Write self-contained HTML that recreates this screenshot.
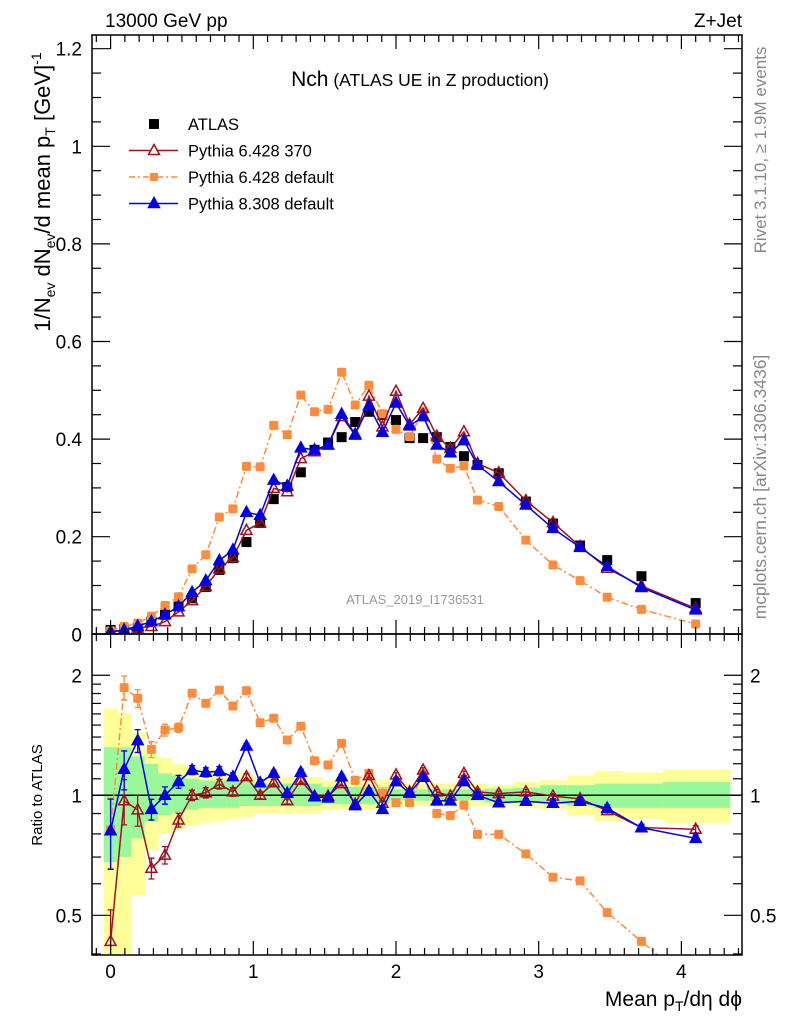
<!DOCTYPE html>
<html><head><meta charset="utf-8"><style>
body{margin:0;background:#fff}
svg{display:block;font-family:"Liberation Sans",sans-serif}
</style></head><body>
<svg id="c" width="786" height="1024" viewBox="0 0 786 1024">
<defs>
<clipPath id="cm"><rect x="92" y="35" width="650" height="599"/></clipPath>
<clipPath id="cr"><rect x="92" y="634" width="650" height="321"/></clipPath>
</defs>
<g id="bands" clip-path="url(#cr)"></g>
<g id="main" clip-path="url(#cm)"></g>
<g id="ratio" clip-path="url(#cr)"></g>
<g id="axes"></g>
<text x="105" y="27" font-size="19">13000 GeV pp</text>
<text x="742" y="27" font-size="19" text-anchor="end">Z+Jet</text>
<text x="420" y="86" text-anchor="middle"><tspan font-size="21">Nch</tspan><tspan font-size="17.5"> (ATLAS UE in Z production)</tspan></text>
<text x="415" y="604" font-size="13" fill="#999" text-anchor="middle">ATLAS_2019_I1736531</text>
<text transform="translate(766,150) rotate(-90)" font-size="17" fill="#888" text-anchor="middle">Rivet 3.1.10, ≥ 1.9M events</text>
<text transform="translate(766,487) rotate(-90)" font-size="17.5" fill="#888" text-anchor="middle">mcplots.cern.ch [arXiv:1306.3436]</text>
<text transform="translate(50,192) rotate(-90)" font-size="22" text-anchor="middle">1/N<tspan font-size="14" dy="5">ev</tspan><tspan dy="-5"> dN</tspan><tspan font-size="14" dy="5">ev</tspan><tspan dy="-5">/d mean p</tspan><tspan font-size="14" dy="5">T</tspan><tspan dy="-5"> [GeV]</tspan><tspan font-size="14" dy="-9">-1</tspan></text>
<text transform="translate(42,795) rotate(-90)" font-size="15" text-anchor="middle">Ratio to ATLAS</text>
<text x="742" y="1006" font-size="21" text-anchor="end">Mean p<tspan font-size="14" dy="5">T</tspan><tspan dy="-5">/dη dϕ</tspan></text>
<g id="legend"></g>
</svg>
<script>
const xs=[0,0.095,0.19,0.286,0.381,0.476,0.571,0.667,0.762,0.857,0.952,1.048,1.143,1.238,1.333,1.429,1.524,1.619,1.714,1.81,1.905,2.0,2.095,2.19,2.286,2.381,2.476,2.571,2.72,2.91,3.1,3.29,3.48,3.72,4.10];
const binEdges=[-0.048,0.048,0.143,0.238,0.333,0.429,0.524,0.619,0.714,0.81,0.905,1.0,1.095,1.19,1.286,1.381,1.476,1.571,1.667,1.762,1.857,1.952,2.048,2.143,2.238,2.333,2.429,2.524,2.62,2.82,3.01,3.2,3.39,3.58,3.87,4.34];
const atlas=[0.009,0.01,0.013,0.026,0.04,0.057,0.074,0.097,0.132,0.156,0.189,0.228,0.277,0.302,0.332,0.378,0.393,0.404,0.435,0.456,0.449,0.439,0.402,0.402,0.404,0.384,0.365,0.347,0.33,0.272,0.227,0.182,0.152,0.119,0.064];
const py6a=[0.005,0.008,0.013,0.016,0.026,0.046,0.069,0.098,0.134,0.157,0.213,0.228,0.299,0.292,0.36,0.374,0.388,0.446,0.408,0.488,0.425,0.498,0.43,0.463,0.406,0.381,0.415,0.35,0.331,0.274,0.229,0.18,0.135,0.099,0.053];
const py6d=[0.007,0.016,0.023,0.037,0.059,0.077,0.134,0.163,0.24,0.257,0.344,0.343,0.428,0.409,0.49,0.456,0.461,0.537,0.47,0.51,0.452,0.42,0.405,0.456,0.359,0.34,0.345,0.275,0.262,0.193,0.142,0.11,0.076,0.051,0.021];
const py8=[0.005,0.009,0.017,0.026,0.04,0.057,0.086,0.11,0.151,0.173,0.25,0.244,0.316,0.304,0.382,0.378,0.388,0.451,0.41,0.468,0.414,0.474,0.427,0.446,0.388,0.372,0.397,0.347,0.313,0.265,0.217,0.178,0.139,0.096,0.05];
const r6a=[0.43,0.969,0.919,0.656,0.708,0.867,1.0,1.015,1.067,1.02,1.113,1.0,1.075,0.97,1.09,0.995,0.995,1.07,0.95,1.12,0.955,1.125,1.02,1.157,1.02,0.995,1.135,1.02,1.01,1.02,0.995,0.98,0.915,0.83,0.822];
const r6d=[0.82,1.862,1.75,1.304,1.458,1.477,1.803,1.70,1.836,1.675,1.83,1.52,1.56,1.376,1.49,1.221,1.191,1.35,1.09,1.135,1.013,0.958,0.958,1.135,0.90,0.89,0.945,0.798,0.798,0.713,0.623,0.61,0.508,0.43,0.33];
const r8=[0.815,1.162,1.371,0.922,1.0,1.082,1.157,1.142,1.15,1.113,1.329,1.075,1.135,1.012,1.142,0.992,0.985,1.113,0.942,1.025,0.922,1.082,1.013,1.11,0.968,0.968,1.082,1.0,0.958,0.966,0.955,0.966,0.928,0.829,0.78];
const rErr=[0.2,0.13,0.09,0.06,0.05,0.04,0.03,0.03,0.03,0.025,0.02,0.02,0.02,0.02,0.02,0.015,0.015,0.015,0.015,0.015,0.015,0.015,0.015,0.015,0.015,0.015,0.015,0.015,0.015,0.015,0.015,0.02,0.02,0.02,0.02];
const yelUp=[1.65,1.61,1.44,1.27,1.24,1.2,1.18,1.16,1.15,1.14,1.13,1.11,1.11,1.11,1.11,1.11,1.09,1.09,1.09,1.09,1.09,1.07,1.07,1.07,1.07,1.07,1.07,1.07,1.06,1.08,1.09,1.12,1.15,1.14,1.16];
const yelDn=[0.3,0.40,0.56,0.73,0.80,0.82,0.84,0.85,0.86,0.87,0.88,0.90,0.90,0.90,0.90,0.90,0.92,0.92,0.92,0.92,0.92,0.94,0.94,0.94,0.94,0.94,0.94,0.94,0.94,0.93,0.92,0.89,0.86,0.87,0.85];
const grnUp=[1.32,1.32,1.25,1.2,1.135,1.12,1.10,1.09,1.09,1.08,1.08,1.07,1.07,1.07,1.07,1.07,1.05,1.05,1.05,1.05,1.05,1.035,1.035,1.035,1.035,1.035,1.035,1.035,1.04,1.045,1.06,1.06,1.07,1.07,1.08];
const grnDn=[0.68,0.70,0.78,0.86,0.89,0.905,0.92,0.93,0.93,0.93,0.94,0.94,0.94,0.94,0.94,0.94,0.95,0.95,0.95,0.95,0.95,0.97,0.97,0.97,0.97,0.97,0.97,0.97,0.96,0.955,0.95,0.94,0.93,0.93,0.93];
const yTicks=["0","0.2","0.4","0.6","0.8","1","1.2"];
const xTicks=["0","1","2","3","4"];
const rTicks=["0.5","1","2"];

const NS="http://www.w3.org/2000/svg";
const X=v=>110.6+v*142.7, Y=v=>634.3-v*488, R=r=>795.3-398.7*Math.log10(r);
function mk(p,t,a){const e=document.createElementNS(NS,t);for(const k in a)e.setAttribute(k,a[k]);p.appendChild(e);return e;}
const gM=document.getElementById('main'),gR=document.getElementById('ratio'),gB=document.getElementById('bands'),gA=document.getElementById('axes'),gL=document.getElementById('legend');
const RED="#a01020",ORG="#ff8c3c",BLU="#0000e6";

for(let i=0;i<xs.length;i++){
 const x0=X(binEdges[i]),x1=X(binEdges[i+1]);
 let e=mk(gB,'rect',{x:x0,y:R(yelUp[i]),width:x1-x0+0.5,height:R(yelDn[i])-R(yelUp[i]),fill:"#ffff99"});
 
 
 e=mk(gB,'rect',{x:x0,y:R(grnUp[i]),width:x1-x0+0.5,height:R(grnDn[i])-R(grnUp[i]),fill:"#99f899"});
 
 
}
let ln=mk(gR,'line',{x1:92,x2:742,y1:R(1),y2:R(1),stroke:"#000","stroke-width":1.5});



function tri(p,x,y,fill,stroke){return mk(p,'path',{d:`M${x},${y-6}L${x+5.5},${y+4}L${x-5.5},${y+4}Z`,fill:fill,stroke:stroke,"stroke-width":1.5});}
function series(p,vals,fy,color,dash,marker,name,errs){
 const pts=vals.map((v,i)=>X(xs[i])+","+fy(v)).join(" ");
 const pl=mk(p,'polyline',{points:pts,fill:"none",stroke:color,"stroke-width":1.5,"stroke-dasharray":dash||"none"});
 
 
 vals.forEach((v,i)=>{
  const x=X(xs[i]),y=fy(v);
  if(errs){const e=errs[i]*(v<1?v:1);const eb=mk(p,'path',{d:`M${x},${fy(v+e)}V${fy(Math.max(v-e,0.01))}M${x-3},${fy(v+e)}h6M${x-3},${fy(Math.max(v-e,0.01))}h6`,stroke:color,"stroke-width":1.3,fill:"none"});
   
   }
  let m;
  if(marker==='osq')m=mk(p,'rect',{x:x-4.5,y:y-4.5,width:9,height:9,fill:ORG,rx:1.5});
  else if(marker==='otri')m=tri(p,x,y,"none",RED);
  else m=tri(p,x,y,BLU,BLU);
  
  
 });
}
atlas.forEach((v,i)=>{const m=mk(gM,'rect',{x:X(xs[i])-5,y:Y(v)-5,width:10,height:10,fill:"#000"});
 
 });
series(gM,py6d,Y,ORG,"7,3,2,3",'osq','pythia6-default');
series(gM,py6a,Y,RED,null,'otri','pythia6-370');
series(gM,py8,Y,BLU,null,'ftri','pythia8');
series(gR,r6d,R,ORG,"7,3,2,3",'osq','ratio-pythia6-default',rErr);
series(gR,r6a,R,RED,null,'otri','ratio-pythia6-370',rErr);
series(gR,r8,R,BLU,null,'ftri','ratio-pythia8',rErr);

for(const [y0,y1,n] of [[35,634,'main-frame'],[634,955,'ratio-frame']]){
 const f=mk(gA,'rect',{x:92,y:y0,width:650,height:y1-y0,fill:"none",stroke:"#000","stroke-width":1.5});
 
 
}
for(let k=-1;k<=44;k++){const v=k/10;const x=X(v);if(x<92||x>742)continue;const maj=k%10===0;const L=maj?14:7;
 for(const [yb,dir] of [[634,-1],[35,1],[955,-1],[634,1]]){
  const t=mk(gA,'line',{x1:x,x2:x,y1:yb,y2:yb+dir*L,stroke:"#000","stroke-width":1.2});
  
  }
}
xTicks.forEach(s=>{const t=mk(gA,'text',{x:X(+s),y:978,"font-size":19,"text-anchor":"middle"});t.textContent=s;
 
 });
for(let k=0;k<=24;k++){const v=k*0.05,y=Y(v);if(y<35)continue;const maj=k%4===0,L=maj?18:9;
 for(const [xb,d] of [[92,1],[742,-1]]){const t=mk(gA,'line',{x1:xb,x2:xb+d*L,y1:y,y2:y,stroke:"#000","stroke-width":1.2});
  
  }}
yTicks.forEach(s=>{const t=mk(gA,'text',{x:82,y:Y(+s)+7,"font-size":19,"text-anchor":"end"});t.textContent=s;
 
 });
const rt=[0.4,0.5,0.6,0.7,0.8,0.9,1,2,1.1,1.2,1.3,1.4,1.5,1.6,1.7,1.8,1.9];
rt.forEach(r=>{const y=R(r);if(y<634||y>955)return;const maj=(r===0.5||r===1||r===2),L=maj?18:9;
 for(const [xb,d] of [[92,1],[742,-1]]){const t=mk(gA,'line',{x1:xb,x2:xb+d*L,y1:y,y2:y,stroke:"#000","stroke-width":1.2});
  
  }});
rTicks.forEach(s=>{for(const [x,a] of [[82,'end'],[750,'start']]){const t=mk(gA,'text',{x:x,y:R(+s)+7,"font-size":19,"text-anchor":a});t.textContent=s;
 
 }});
const leg=[["ATLAS","sq",null,null],["Pythia 6.428 370","otri",RED,null],["Pythia 6.428 default","osq",ORG,"6,3,2,3"],["Pythia 8.308 default","ftri",BLU,null]];
leg.forEach((l,i)=>{const y=124+i*26.5,cx=154;
 if(l[2]){const e=mk(gL,'line',{x1:129,x2:178,y1:y,y2:y,stroke:l[2],"stroke-width":1.5,"stroke-dasharray":l[3]||"none"});
  
  }
 let m;
 if(l[1]==='sq')m=mk(gL,'rect',{x:cx-5,y:y-5,width:10,height:10,fill:"#000"});
 else if(l[1]==='osq')m=mk(gL,'rect',{x:cx-4,y:y-4,width:8,height:8,fill:ORG});
 else if(l[1]==='otri')m=tri(gL,cx,y,"#fff",RED);
 else m=tri(gL,cx,y,BLU,BLU);
 
 
 const t=mk(gL,'text',{x:188,y:y+6,"font-size":16.5});t.textContent=l[0];
 
 
});
</script>
</body></html>
